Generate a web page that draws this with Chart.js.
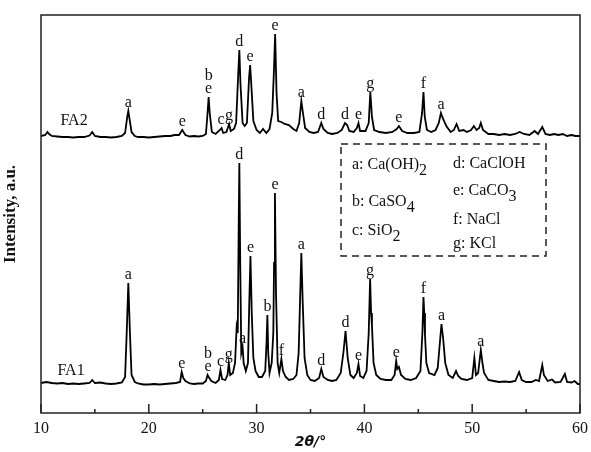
<!DOCTYPE html>
<html>
<head>
<meta charset="utf-8">
<script src="https://cdn.jsdelivr.net/npm/chart.js@4"></script>
<style>
  body { margin: 0; background: #fff; }
  #myChart { display: block; }
</style>
</head>
<body>
<canvas id="myChart" width="591" height="452"></canvas>
<script>
// 2theta / intensity (a.u.), FA2 sits above FA1
var fa2Points = [
  [10.0,277],[10.4,278],[10.6,281],[10.75,279],[11.0,277],[11.5,276.5],[12.0,276],[12.5,276],[13.0,275.5],[13.5,276],
  [14.0,276],[14.5,277.5],[14.75,281],[15.0,277],[15.5,276],[16.0,276],[16.5,275.5],[17.0,276],[17.5,277],[17.8,280],
  [18.0,296],[18.1,302],[18.2,295],[18.4,281],[18.7,277],[19.0,276],[19.5,276],[20.0,275.5],[20.5,276],[21.0,276.5],
  [21.5,277],[22.0,277],[22.4,278],[22.8,278],[23.1,283],[23.4,278],[23.8,276.5],[24.2,277],[24.6,276.5],[25.0,277],
  [25.3,279],[25.45,300],[25.55,316],[25.65,300],[25.85,281],[26.2,279],[26.6,283],[26.75,285],[26.9,280],[27.2,281],
  [27.45,289],[27.6,282],[27.9,284],[28.1,290],[28.3,340],[28.4,363],[28.5,330],[28.7,290],[28.9,287],[29.1,290],
  [29.3,335],[29.4,348],[29.5,330],[29.7,292],[30.0,283],[30.3,280],[30.6,284],[30.9,280],[31.2,284],[31.45,300],
  [31.6,340],[31.72,379],[31.85,320],[32.0,292],[32.3,291],[32.6,289],[33.0,288],[33.4,284],[33.7,282],[33.95,290],
  [34.15,312],[34.3,300],[34.5,285],[34.9,281],[35.3,280],[35.7,281],[36.0,290],[36.2,284],[36.6,280],[37.0,279],
  [37.5,280],[37.9,283],[38.2,290],[38.4,288],[38.6,282],[39.0,281],[39.3,285],[39.45,290],[39.6,282],[40.1,282],
  [40.4,290],[40.55,321],[40.7,296],[40.9,283],[41.4,281],[42.0,280],[42.6,281],[43.0,284],[43.2,287],[43.5,282],
  [44.0,280],[44.6,280],[45.1,281],[45.35,300],[45.48,321],[45.6,296],[45.8,283],[46.2,281],[46.6,283],[46.9,290],
  [47.1,300],[47.3,294],[47.6,287],[48.0,281],[48.3,283],[48.55,289],[48.8,282],[49.2,283],[49.5,281],[49.9,283],
  [50.15,287],[50.4,283],[50.65,285],[50.8,290],[51.0,283],[51.5,279],[52.0,279],[52.5,278],[53.0,279],[53.5,278],
  [54.0,279],[54.4,281],[54.8,279],[55.3,278],[55.8,282],[56.1,279],[56.5,286],[56.8,279],[57.2,278],[57.6,279],
  [58.0,278],[58.4,279],[58.8,277],[59.2,278],[59.6,277],[60.0,277]
];

var fa1Points = [
  [10.0,30],[10.5,31],[11.0,30],[11.5,29.5],[12.0,30],[12.5,29],[13.0,29.5],[13.5,29],[14.0,29.5],[14.5,30],
  [14.75,33],[15.0,30],[15.5,30.5],[16.0,29.5],[16.5,29],[17.0,29.5],[17.5,30.5],[17.8,36],[17.95,80],[18.1,130],
  [18.25,80],[18.4,38],[18.7,31],[19.0,29.5],[19.5,28.5],[20.0,28.5],[20.5,29],[21.0,28.5],[21.5,29],[22.0,29.5],
  [22.5,30],[22.9,31],[23.05,41],[23.2,35],[23.4,32],[23.8,29.5],[24.2,29],[24.6,29.5],[25.0,29.5],[25.3,32],
  [25.45,38],[25.55,36],[25.8,32],[26.2,30],[26.5,33],[26.65,43],[26.8,34],[27.1,33],[27.3,38],[27.42,50],
  [27.55,38],[27.8,40],[28.0,50],[28.15,86],[28.25,80],[28.35,200],[28.4,250],[28.48,150],[28.58,60],[28.7,66],
  [28.8,50],[29.0,42],[29.2,50],[29.32,110],[29.43,157],[29.55,100],[29.7,55],[29.9,42],[30.2,36],[30.5,36],
  [30.8,42],[30.92,70],[31.0,98],[31.08,60],[31.2,40],[31.4,50],[31.55,80],[31.62,150],[31.7,220],[31.8,120],
  [31.95,50],[32.1,40],[32.3,54],[32.45,42],[32.7,36],[33.0,33],[33.4,34],[33.7,38],[33.9,60],[34.05,120],
  [34.15,160],[34.28,110],[34.45,55],[34.7,38],[35.0,33],[35.4,32],[35.8,35],[36.0,44],[36.2,36],[36.6,33],
  [37.0,32],[37.4,33],[37.8,40],[38.05,60],[38.25,82],[38.45,55],[38.7,38],[39.0,35],[39.3,40],[39.45,49],
  [39.6,37],[39.9,35],[40.2,42],[40.4,80],[40.53,134],[40.62,100],[40.7,88],[40.85,50],[41.1,38],[41.5,34],
  [42.0,33],[42.5,33],[42.8,38],[42.95,52],[43.05,44],[43.2,46],[43.4,38],[43.8,34],[44.3,33],[44.8,35],
  [45.2,42],[45.38,80],[45.48,116],[45.55,100],[45.62,78],[45.75,50],[46.0,40],[46.5,38],[46.8,45],[47.0,70],
  [47.15,89],[47.3,75],[47.5,50],[47.8,38],[48.2,35],[48.5,42],[48.7,37],[49.0,34],[49.5,33],[50.0,35],
  [50.2,55],[50.35,38],[50.55,40],[50.8,63],[50.95,50],[51.1,40],[51.5,33],[52.0,32],[52.5,31],[53.0,31.5],
  [53.5,31],[54.0,32],[54.35,41],[54.6,33],[55.0,31],[55.5,31],[55.9,33],[56.2,32],[56.5,48],[56.65,38],
  [57.0,32],[57.4,33.5],[57.7,30.5],[58.2,31],[58.6,39],[58.8,31],[59.2,30.5],[59.5,32],[59.8,29],[60.0,29]
];

// phase letters over the peaks ("b/e" = stacked)
var fa2Peaks = [
  ['a',18.1],['e',23.1],['b/e',25.55],['c',26.7],['g',27.45],['d',28.4],['e',29.4],['e',31.72],
  ['a',34.15],['d',36.0],['d',38.2],['e',39.45],['g',40.55],['e',43.2],['f',45.48],['a',47.1]
];
var fa1Peaks = [
  ['a',18.1],['e',23.05],['b/e',25.5],['c',26.65],['g',27.42],['d',28.4],['a',28.7],['e',29.43],
  ['b',31.0],['e',31.7],['f',32.3],['a',34.15],['d',36.0],['d',38.25],['e',39.45],['g',40.53],
  ['e',42.95],['f',45.48],['a',47.15],['a',50.8]
];

var seriesNames = ['FA2', 'FA1'];
var xTicks = [10, 20, 30, 40, 50, 60];
var phaseKey = [
  ['a: Ca(OH)', '2'], ['d: CaClOH', ''], ['e: CaCO', '3'], ['b: CaSO', '4'],
  ['f: NaCl', ''], ['c: SiO', '2'], ['g: KCl', '']
];

var SERIF = '"Liberation Serif", "Times New Roman", serif';

function toXY(arr) {
  return arr.map(function (p) { return { x: p[0], y: p[1] }; });
}

function peakTop(points, x) {
  var best = -Infinity;
  points.forEach(function (p) {
    if (Math.abs(p[0] - x) <= 0.12 && p[1] > best) best = p[1];
  });
  return best;
}

var decorations = {
  id: 'decorations',
  afterDatasetsDraw: function (chart) {
    var c = chart.ctx, a = chart.chartArea;
    var xs = chart.scales.x, ys = chart.scales.y;
    c.save();

    // frame
    c.strokeStyle = '#222';
    c.lineWidth = 1.5;
    c.strokeRect(a.left, a.top, a.right - a.left, a.bottom - a.top);

    // inward ticks on the bottom axis
    c.beginPath();
    for (var v = 10; v <= 60; v += 5) {
      var px = xs.getPixelForValue(v);
      var len = (v % 10 === 0) ? 9 : 4;
      c.moveTo(px, a.bottom);
      c.lineTo(px, a.bottom - len);
    }
    c.stroke();

    // peak letters
    c.fillStyle = '#111';
    c.font = '16px ' + SERIF;
    c.textAlign = 'center';
    c.textBaseline = 'alphabetic';
    [[fa2Points, fa2Peaks], [fa1Points, fa1Peaks]].forEach(function (s) {
      s[1].forEach(function (pk) {
        var top = ys.getPixelForValue(peakTop(s[0], pk[1]));
        var px = xs.getPixelForValue(pk[1]);
        var parts = pk[0].split('/').reverse();
        parts.forEach(function (t, i) {
          c.fillText(t, px, top - 4 - i * 13);
        });
      });
    });

    // series names
    c.font = '16px ' + SERIF;
    c.textAlign = 'left';
    var nx = xs.getPixelForValue(11.8);
    c.fillText(seriesNames[0], nx, ys.getPixelForValue(276) - 12);
    c.fillText(seriesNames[1], nx - 3, ys.getPixelForValue(30) - 8);

    // phase key box
    c.setLineDash([7, 5]);
    c.lineWidth = 1.5;
    c.strokeRect(341, 144, 205, 112);
    c.setLineDash([]);
    var keyPos = [[352, 168.5], [453, 167.5], [453, 194.5], [352, 206], [453, 224], [352, 234.5], [453, 248]];
    phaseKey.forEach(function (k, i) {
      var p = keyPos[i];
      c.font = '16px ' + SERIF;
      c.fillText(k[0], p[0], p[1]);
      if (k[1]) {
        var w = c.measureText(k[0]).width;
        c.fillText(k[1], p[0] + w, p[1] + 6);
      }
    });

    c.restore();
  }
};

var ctx = document.getElementById('myChart').getContext('2d');
var chart = new Chart(ctx, {
  type: 'line',
  data: {
    datasets: [{
      label: seriesNames[0],
      data: toXY(fa2Points),
      borderColor: '#000',
      borderWidth: 1.8,
      pointRadius: 0,
      tension: 0
    }, {
      label: seriesNames[1],
      data: toXY(fa1Points),
      borderColor: '#000',
      borderWidth: 1.8,
      pointRadius: 0,
      tension: 0
    }]
  },
  options: {
    responsive: false,
    animation: false,
    events: [],
    layout: { padding: { top: 15, right: 11, left: 0, bottom: 0 } },
    plugins: {
      legend: { display: false },
      tooltip: { enabled: false }
    },
    scales: {
      x: {
        type: 'linear',
        min: 10,
        max: 60,
        afterBuildTicks: function (axis) {
          axis.ticks = xTicks.map(function (v) { return { value: v }; });
        },
        afterFit: function (axis) {
          axis.height = 39;
          axis.paddingLeft = 0;
          axis.paddingRight = 0;
        },
        grid: { display: false, drawTicks: false },
        border: { display: false },
        ticks: {
          color: '#111',
          padding: 6,
          maxRotation: 0,
          font: { family: SERIF, size: 16 }
        },
        title: {
          display: true,
          text: '2\u03b8/\u00b0',
          color: '#111',
          padding: { top: 0, bottom: 1 },
          font: { family: '"DejaVu Sans", sans-serif', size: 14, weight: 'bold', style: 'italic' }
        }
      },
      y: {
        min: 0,
        max: 398,
        afterFit: function (axis) { axis.width = 41; },
        grid: { display: false, drawTicks: false },
        border: { display: false },
        ticks: { display: false },
        title: {
          display: true,
          text: 'Intensity, a.u.',
          color: '#111',
          padding: { top: 0, bottom: 9 },
          font: { family: SERIF, size: 17, weight: 'bold' }
        }
      }
    }
  },
  plugins: [decorations]
});
</script>
</body>
</html>
